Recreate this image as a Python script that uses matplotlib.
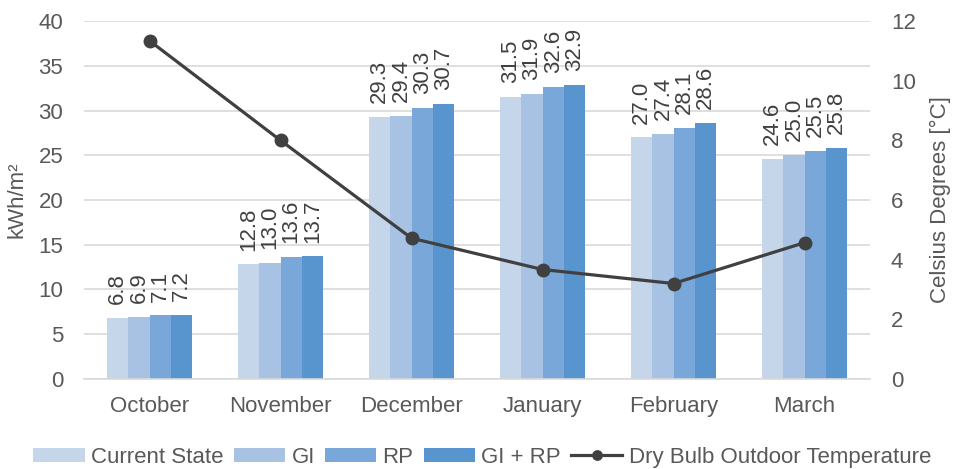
import numpy as np
import matplotlib.pyplot as plt

months = ['October', 'November', 'December', 'January', 'February', 'March']
current_state = [6.8, 12.8, 29.3, 31.5, 27.0, 24.6]
gi = [6.9, 13.0, 29.4, 31.9, 27.4, 25.0]
rp = [7.1, 13.6, 30.3, 32.6, 28.1, 25.5]
gi_rp = [7.2, 13.7, 30.7, 32.9, 28.6, 25.8]
temperature = [11.34, 8.0, 4.72, 3.67, 3.2, 4.57]

series = [('Current State', current_state, '#c5d5ea'),
          ('GI', gi, '#a8c2e4'),
          ('RP', rp, '#7aa7d9'),
          ('GI + RP', gi_rp, '#5894cd')]

plt.rcParams['font.family'] = 'Liberation Sans'
txt = '#595959'
fs = 16

fig = plt.figure(figsize=(9.55, 4.69), dpi=100)
ax = fig.add_axes([0.088, 0.192, 0.823, 0.763])
ax2 = ax.twinx()

x = np.arange(len(months))
w = 0.162
for i, (name, vals, col) in enumerate(series):
    pos = x + (i - 1.5) * w
    bars = ax.bar(pos, vals, w, color=col, label=name, zorder=2)
    for b, v in zip(bars, vals):
        ax.annotate(f'{v:.1f}', (b.get_x() + b.get_width() / 2, v),
                    xytext=(0, 10), textcoords='offset points',
                    rotation=90, ha='center', va='bottom',
                    fontsize=fs, color='#404040')

ln, = ax2.plot(x, temperature, color='#404040', lw=2.3, marker='o',
               ms=9, label='Dry Bulb Outdoor Temperature', zorder=3)

ax.set_xlim(-0.5, len(months) - 0.5)
ax.set_ylim(0, 40)
ax.set_yticks(range(0, 41, 5))
ax2.set_ylim(0, 12)
ax2.set_yticks(range(0, 13, 2))
ax.set_xticks(x)
ax.set_xticklabels(months)
ax.yaxis.grid(True, color='#d9d9d9', lw=1.2, zorder=0)
ax.set_axisbelow(True)

for a in (ax, ax2):
    for s in a.spines.values():
        s.set_visible(False)
    a.tick_params(length=0, labelsize=fs, colors=txt, pad=15)
ax.tick_params(axis='x', pad=12)
ax.spines['bottom'].set_visible(True)
ax.spines['bottom'].set_color('#d9d9d9')
ax.spines['bottom'].set_linewidth(1.2)

ax.set_ylabel('kWh/m²', fontsize=fs, color=txt, labelpad=8)
ax2.set_ylabel('Celsius Degrees [°C]', fontsize=fs, color=txt, labelpad=10)

handles = ax.get_legend_handles_labels()[0] + [ln]
labels = [h.get_label() for h in handles]
fig.legend(handles, labels, loc='lower center', bbox_to_anchor=(0.505, -0.04),
           ncol=5, frameon=False, fontsize=fs, labelcolor=txt,
           handlelength=2.3, handleheight=0.55, handletextpad=0.3,
           columnspacing=0.45, markerscale=0.75)

fig.savefig('out.png', dpi=100)
